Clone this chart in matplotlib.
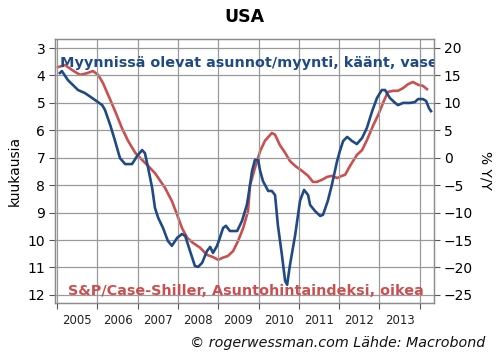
import matplotlib
matplotlib.use("Agg")
import matplotlib.pyplot as plt
import numpy as np

# inventory / sales, months (left axis, inverted)
inv_t = [2005.07, 2005.12, 2005.27, 2005.52, 2005.69, 2005.87, 2006.12, 2006.19,
         2006.32, 2006.44, 2006.56, 2006.69, 2006.86, 2006.99, 2007.11, 2007.18,
         2007.26, 2007.36, 2007.43, 2007.51, 2007.63, 2007.75, 2007.85, 2007.98,
         2008.10, 2008.18, 2008.30, 2008.42, 2008.50, 2008.60, 2008.72, 2008.80,
         2008.87, 2008.97, 2009.04, 2009.12, 2009.19, 2009.29, 2009.47, 2009.59,
         2009.71, 2009.74, 2009.84, 2009.91, 2009.99, 2010.04, 2010.11, 2010.24,
         2010.33, 2010.41, 2010.48, 2010.58, 2010.66, 2010.71, 2010.78, 2010.91,
         2011.03, 2011.13, 2011.23, 2011.28, 2011.40, 2011.53, 2011.60, 2011.72,
         2011.82, 2011.95, 2012.02, 2012.10, 2012.20, 2012.32, 2012.44, 2012.57,
         2012.69, 2012.82, 2012.94, 2013.06, 2013.14, 2013.26, 2013.39, 2013.46,
         2013.59, 2013.76, 2013.88, 2013.96, 2014.08, 2014.16, 2014.23, 2014.28]
inv_v = [3.91, 3.84, 4.17, 4.53, 4.64, 4.82, 5.08, 5.26,
         5.81, 6.39, 7.01, 7.23, 7.23, 6.93, 6.72, 6.83,
         7.37, 8.10, 8.83, 9.19, 9.56, 10.03, 10.21, 9.92,
         9.78, 9.85, 10.40, 10.94, 10.98, 10.83, 10.40, 10.25,
         10.47, 10.21, 9.92, 9.56, 9.48, 9.67, 9.67, 9.30,
         8.72, 8.46, 7.48, 7.08, 7.08, 7.48, 7.85, 8.21,
         8.21, 8.36, 9.45, 10.54, 11.49, 11.63, 10.91, 9.81,
         8.57, 8.17, 8.36, 8.72, 8.94, 9.12, 9.08, 8.57,
         7.99, 7.12, 6.75, 6.39, 6.24, 6.39, 6.50, 6.28,
         5.91, 5.30, 4.82, 4.53, 4.53, 4.82, 5.00, 5.08,
         5.00, 5.00, 4.97, 4.86, 4.86, 4.93, 5.19, 5.30]

# S&P/Case-Shiller, % y/y (right axis)
cs_t = [2005.02, 2005.20, 2005.37, 2005.57, 2005.74, 2005.89, 2006.02, 2006.14,
        2006.27, 2006.44, 2006.61, 2006.76, 2006.94, 2007.11, 2007.26, 2007.43,
        2007.68, 2007.85, 2007.98, 2008.10, 2008.23, 2008.37, 2008.55, 2008.72,
        2008.87, 2009.00, 2009.12, 2009.24, 2009.37, 2009.49, 2009.62, 2009.74,
        2009.79, 2009.91, 2010.04, 2010.16, 2010.33, 2010.41, 2010.53, 2010.66,
        2010.78, 2010.91, 2011.08, 2011.23, 2011.35, 2011.45, 2011.58, 2011.70,
        2011.82, 2011.95, 2012.07, 2012.15, 2012.27, 2012.44, 2012.57, 2012.69,
        2012.84, 2012.97, 2013.09, 2013.21, 2013.34, 2013.46, 2013.59, 2013.71,
        2013.83, 2013.96, 2014.08, 2014.18]
cs_v = [16.5, 16.9, 16.0, 15.1, 15.4, 15.8, 15.1, 13.6,
        11.4, 8.5, 5.4, 3.1, 0.9, -0.4, -1.5, -2.8,
        -5.5, -7.9, -10.4, -12.8, -14.6, -15.5, -16.4, -17.7,
        -18.1, -18.6, -18.2, -17.9, -17.0, -15.2, -12.8, -9.7,
        -5.0, -1.9, 1.2, 3.1, 4.5, 4.2, 2.3, 0.9,
        -0.6, -1.5, -2.4, -3.3, -4.4, -4.4, -4.0, -3.5,
        -3.3, -3.7, -3.3, -3.1, -1.5, 0.5, 1.4, 3.2,
        5.8, 7.8, 10.0, 12.0, 12.2, 12.2, 12.7, 13.4,
        13.8, 13.3, 13.1, 12.5]

years = list(range(2005, 2015))
blue = "#1f4a85"
red = "#cc4f4f"
grid_c = "#9a9a9a"

fig = plt.figure(figsize=(4.96, 3.61), dpi=100)
ax = fig.add_axes([0.111, 0.161, 0.764, 0.731])
ax2 = ax.twinx()

ax.plot(inv_t, inv_v, color=blue, lw=1.9, zorder=3)
ax2.plot(cs_t, cs_v, color=red, lw=1.9, zorder=2)
ax.set_zorder(ax2.get_zorder() + 1)
ax.patch.set_visible(False)

ax.set_xlim(2004.95, 2014.355)
ax.set_ylim(12.29, 2.67)
ax2.set_ylim(-26.45, 21.64)

ax.set_yticks(range(3, 13))
ax2.set_yticks(range(-25, 21, 5))
ax.set_xticks(years)
ax.set_xticklabels([""] * len(years))
ax.set_xticks([y + 0.5 for y in years[:-1]], minor=True)
ax.set_xticklabels([str(y) for y in years[:-1]], minor=True)
ax.tick_params(axis="x", which="minor", length=0, pad=8, labelsize=8.5, colors="#222222")
ax.tick_params(axis="x", which="major", length=4, color="#555555")
ax.tick_params(axis="y", length=4, labelsize=10, color="#555555", pad=3)
ax2.tick_params(axis="y", length=4, labelsize=10, color="#555555", pad=3)

ax.grid(True, which="major", color=grid_c, lw=0.9)
for a in (ax, ax2):
    for s in a.spines.values():
        s.set_color("#8c8c8c")
        s.set_linewidth(0.9)

ax.set_ylabel("kuukausia", fontsize=10, labelpad=4)
ax2.set_ylabel("% Y/Y", fontsize=10, rotation=270, labelpad=14)
ax.set_title("USA", fontsize=12.5, fontweight="bold", pad=12)

ax.text(0.012, 0.91, "Myynnissä olevat asunnot/myynti, käänt, vasen",
        transform=ax.transAxes, color=blue, fontsize=10.4, fontweight="bold",
        va="center", ha="left", clip_on=True)
ax.text(0.033, 0.045, "S&P/Case-Shiller, Asuntohintaindeksi, oikea",
        transform=ax.transAxes, color=red, fontsize=10.4, fontweight="bold",
        va="center", ha="left")

fig.text(0.978, 0.05, "© rogerwessman.com Lähde: Macrobond", fontsize=10.3,
         style="italic", ha="right", va="center", color="#111111")

fig.savefig("out.png", dpi=100)
